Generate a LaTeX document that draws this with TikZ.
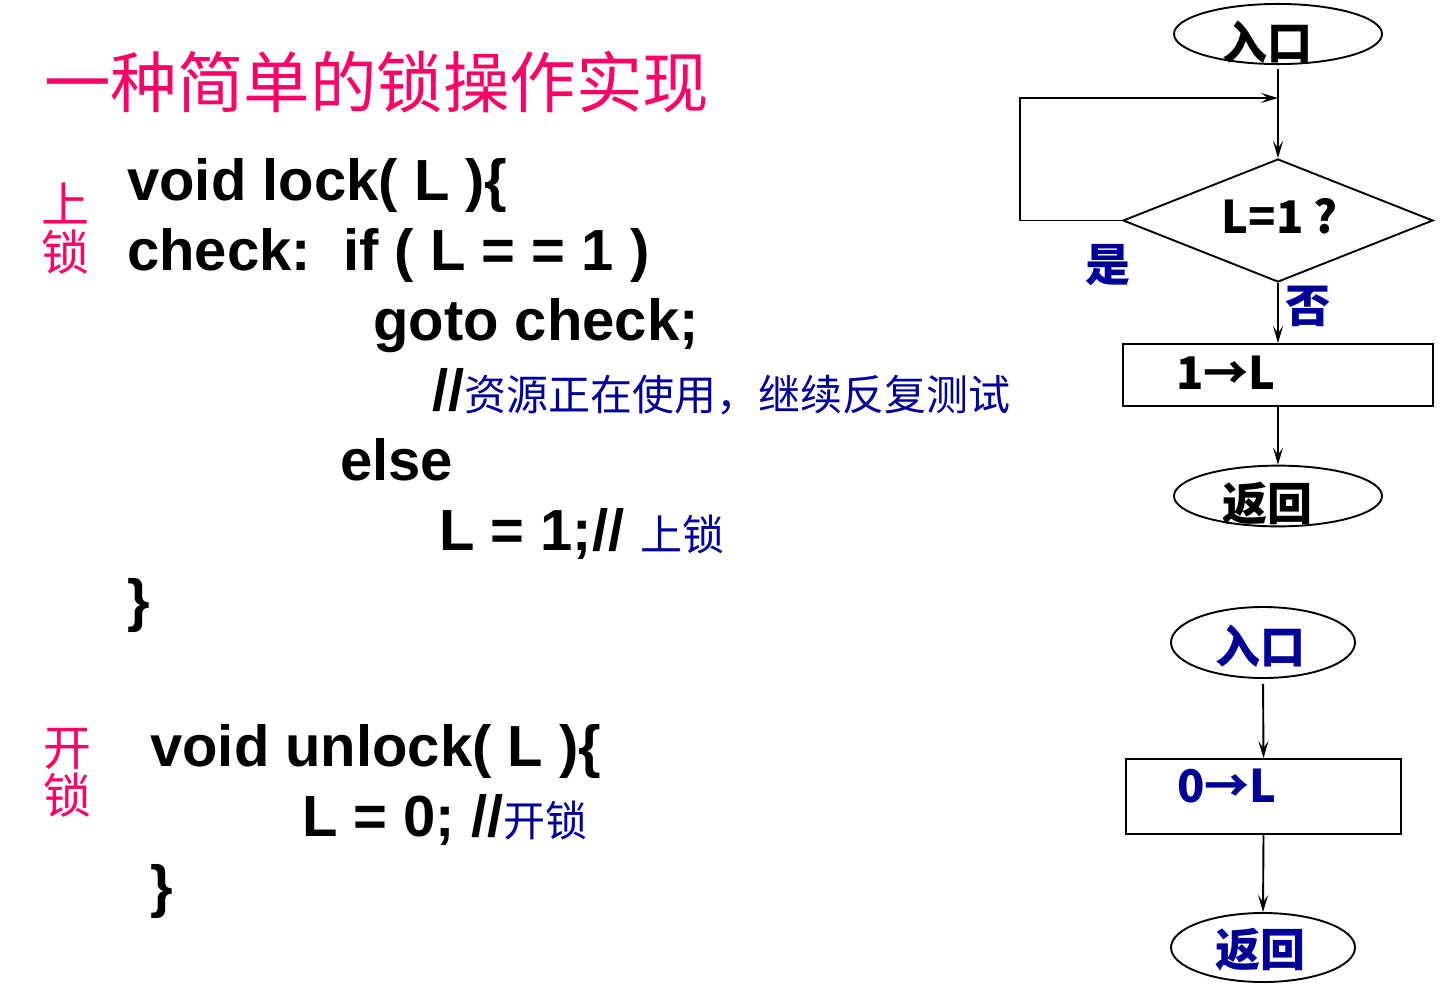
\documentclass[tikz,border=0pt]{standalone}
\usepackage{fontspec}
\setmainfont{Liberation Sans}
\newfontfamily\cjk{Noto Sans CJK SC}
\usetikzlibrary{shapes.geometric,arrows.meta}
\definecolor{tpink}{HTML}{FF0066}
\definecolor{cblue}{HTML}{000099}
\newcommand\cmt[1]{{\cjk\mdseries\fontsize{42}{42}\selectfont\color{cblue}#1}}
% shift a label inside its node: #1 = left shift, #2 = vertical raise, #3 = text
\newcommand\mvtxt[3]{\makebox[0pt]{\kern-#1\raisebox{#2}[\height][\depth]{#3}}}
\begin{document}
\begin{tikzpicture}[x=1pt,y=-1pt,
  code/.style={anchor=base west, inner sep=0, font=\bfseries\fontsize{58}{70}\selectfont},
  side/.style={inner sep=0, align=center, text=tpink, font=\cjk\fontsize{48}{48}\selectfont},
  fc/.style={inner sep=0, line width=1.9pt, font=\cjk\bfseries\fontsize{45}{45}\selectfont},
  ell/.style={fc, ellipse, draw},
  fcbox/.style={fc, rectangle, draw},
  dia/.style={fc, diamond, draw, aspect=2.52},
  lab/.style={inner sep=0, text=cblue, font=\cjk\bfseries\fontsize{45}{45}\selectfont},
  arr/.style={line width=1.9pt, -{Stealth[length=17pt,width=10pt,inset=7pt]}}
]
\useasboundingbox (0,0) rectangle (1443,1005);

% title
\node[anchor=west, inner sep=0, text=tpink, font=\cjk\fontsize{66.5}{66.5}\selectfont] (title) at (44,82) {一种简单的锁操作实现};

% side labels
\node[side] (sideA) at (65,229) {上\\锁};
\node[side] (sideB) at (67,773) {开\\锁};

% code
\node[code] (c1) at (127,200) {void lock( L )\{};
\node[code] (c2) at (127,270) {check:\ \ if ( L = = 1 )};
\node[code] (c3) at (373,340) {goto check;};
\node[code] (c4) at (432,410) {//\cmt{资源正在使用，继续反复测试}};
\node[code] (c5) at (340,480) {else};
\node[code] (c6) at (439,550) {L = 1;// \cmt{上锁}};
\node[code] (c7) at (127,620) {\}};
\node[code] (c8) at (150,766) {void unlock( L )\{};
\node[code] (c9) at (302,836) {L = 0; //\cmt{开锁}};
\node[code] (c10) at (150,906) {\}};

% flowchart 1
\node[ell, minimum width=208, minimum height=58] (s1) at (1278,34)
  {\mvtxt{22pt}{-8.5pt}{入口}};
\node[dia, minimum width=310, minimum height=123] (d1) at (1278,220.5)
  {\mvtxt{-4pt}{4pt}{L=1 ?}};
\node[fcbox, minimum width=310, minimum height=62] (b1) at (1278,375)
  {\raisebox{2.5pt}[\height][\depth]{\makebox[204pt][l]{1→L}}};
\node[ell, minimum width=208, minimum height=58] (r1) at (1278,496)
  {\mvtxt{22pt}{-7.5pt}{返回}};
\node[lab] (yes) at (1108,265) {是};
\node[lab] (no) at (1308,306) {否};
\coordinate (loopl) at (1020,98);
\coordinate (loopin) at (1278,98);

\draw[arr, shorten <=4pt] (s1.south) -- (d1.north);
\draw[arr] (d1.west) -| (loopl) -- (loopin);
\draw[arr] (d1.south) -- (b1.north);
\draw[arr] (b1.south) -- (r1.north);

% flowchart 2
\node[ell, text=cblue, minimum width=184, minimum height=71] (s2) at (1263,642.5)
  {\mvtxt{6pt}{-3.5pt}{入口}};
\node[fcbox, text=cblue, minimum width=275, minimum height=75] (b2) at (1263.5,796.5)
  {\raisebox{10.5pt}[\height][\depth]{\makebox[173pt][l]{0→L}}};
\node[ell, text=cblue, minimum width=184, minimum height=69] (r2) at (1263,947.5)
  {\mvtxt{5pt}{-2.5pt}{返回}};

\draw[arr, shorten <=5pt] (s2.south) -- (b2.north);
\draw[arr] (b2.south) -- (r2.north);
\end{tikzpicture}
\end{document}
